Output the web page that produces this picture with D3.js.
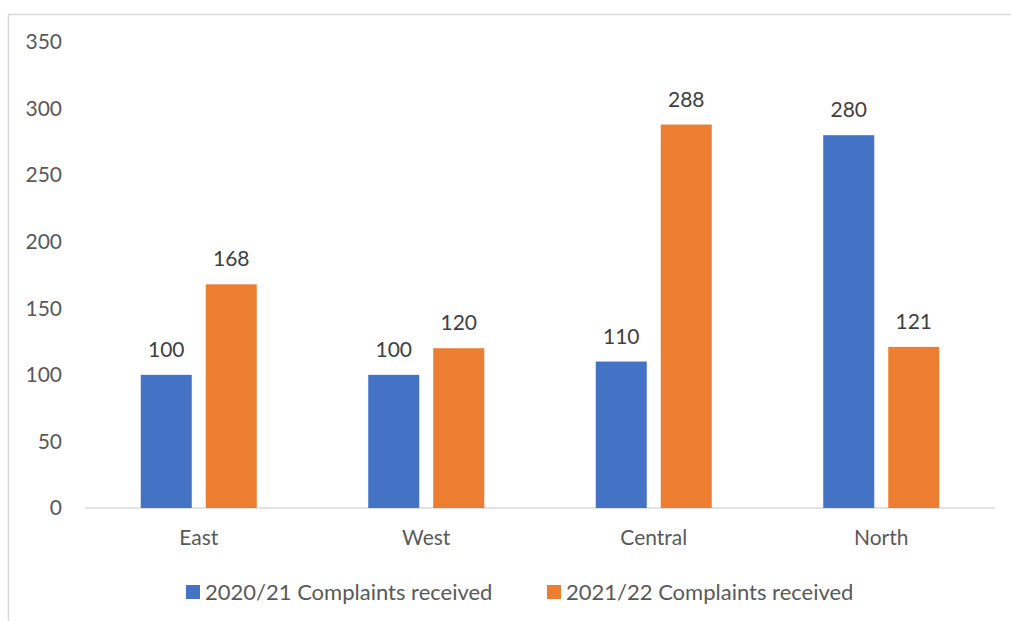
<!DOCTYPE html>
<html>
<head>
<meta charset="utf-8">
<script src="https://cdn.jsdelivr.net/npm/d3@7"></script>
<style>
  body { margin: 0; background: #fff; }
  svg text { font-family: Lato, "Open Sans", sans-serif; }
</style>
</head>
<body>
<div id="chart"></div>
<script>
const categories = ['East', 'West', 'Central', 'North'];
const seriesNames = ['2020/21 Complaints received', '2021/22 Complaints received'];
const complaints2020 = [100, 100, 110, 280];
const complaints2021 = [168, 120, 288, 121];
const yTicks = [0, 50, 100, 150, 200, 250, 300, 350];
const colors = ['#4472C4', '#ED7D31'];

const W = 1011, H = 621;
const plot = { left: 85, right: 995, top: 42, bottom: 508 };

const svg = d3.select('#chart').append('svg')
    .attr('width', W)
    .attr('height', H);

// chart frame (only top + left edges visible in the crop)
svg.append('path')
    .attr('d', `M8.5,${H} V14.5 H${W}`)
    .attr('fill', 'none')
    .attr('stroke', '#d9d9d9')
    .attr('stroke-width', 1.5);

const y = d3.scaleLinear().domain([0, 350]).range([plot.bottom, plot.top]);

const x0 = d3.scaleBand()
    .domain(categories)
    .range([plot.left, plot.right])
    .padding(0);

const groupWidth = x0.bandwidth() * 0.51;
const x1 = d3.scaleBand()
    .domain([0, 1])
    .range([0, groupWidth])
    .paddingInner(0.215);

// y axis labels
const yAxis = svg.append('g')
    .attr('transform', `translate(${plot.left - 23},0)`)
    .call(d3.axisLeft(y).tickValues(yTicks).tickSize(0).tickPadding(0));
yAxis.select('.domain').remove();
yAxis.selectAll('text')
    .attr('fill', '#595959')
    .style('font-size', '21px');

// baseline
svg.append('line')
    .attr('x1', plot.left).attr('x2', plot.right)
    .attr('y1', y(0)).attr('y2', y(0))
    .attr('stroke', '#d9d9d9')
    .attr('stroke-width', 1.5);

// x axis labels
const xAxis = svg.append('g')
    .attr('transform', `translate(0,${plot.bottom + 22})`)
    .call(d3.axisBottom(x0).tickSize(0).tickPadding(0));
xAxis.select('.domain').remove();
xAxis.selectAll('text')
    .attr('fill', '#595959')
    .style('font-size', '21px');

const rows = categories.map((c, i) => ({
    name: c,
    values: [complaints2020[i], complaints2021[i]]
}));

const groups = svg.selectAll('.group')
    .data(rows)
    .enter()
    .append('g')
    .attr('class', 'group')
    .attr('transform', d => `translate(${x0(d.name) + (x0.bandwidth() - groupWidth) / 2},0)`);

groups.selectAll('rect')
    .data(d => d.values.map((v, k) => ({ k, v })))
    .enter()
    .append('rect')
    .attr('x', d => x1(d.k))
    .attr('y', d => y(d.v))
    .attr('width', x1.bandwidth())
    .attr('height', d => y(0) - y(d.v))
    .attr('fill', d => colors[d.k]);

groups.selectAll('.val')
    .data(d => d.values.map((v, k) => ({ k, v })))
    .enter()
    .append('text')
    .attr('class', 'val')
    .attr('x', d => x1(d.k) + x1.bandwidth() / 2)
    .attr('y', d => y(d.v) - 18)
    .attr('text-anchor', 'middle')
    .attr('fill', '#404040')
    .style('font-size', '21px')
    .text(d => d.v);

// legend
const legendX = [186, 547];
const legend = svg.selectAll('.legend')
    .data(seriesNames)
    .enter()
    .append('g')
    .attr('class', 'legend')
    .attr('transform', (d, i) => `translate(${legendX[i]},592)`);

legend.append('rect')
    .attr('x', 0).attr('y', -7)
    .attr('width', 14).attr('height', 14)
    .attr('fill', (d, i) => colors[i]);

legend.append('text')
    .attr('x', 19)
    .attr('y', 8)
    .attr('fill', '#595959')
    .style('font-size', '22px')
    .text(d => d);
</script>
</body>
</html>
